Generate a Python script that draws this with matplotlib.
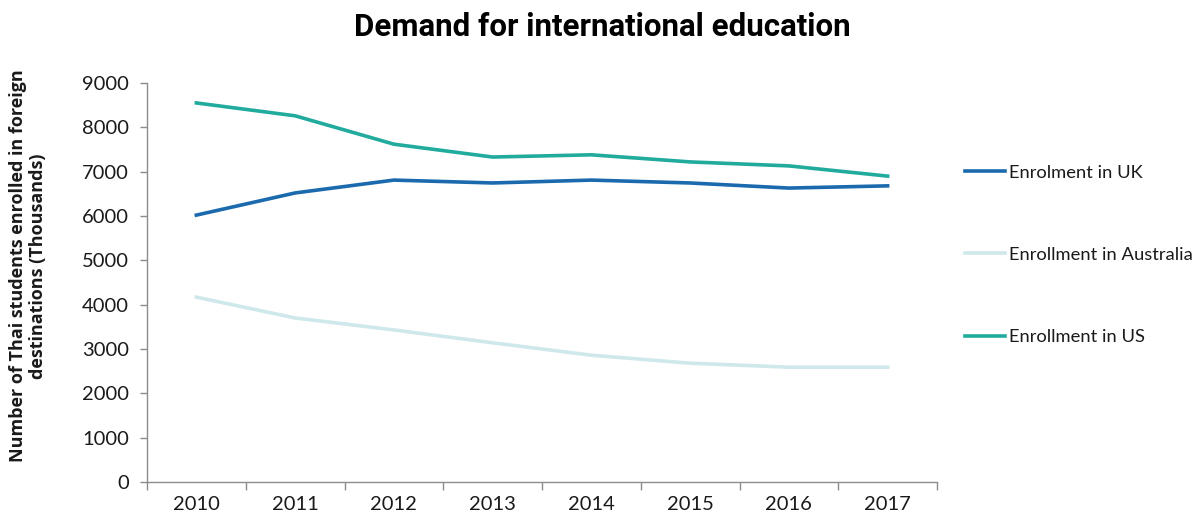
import matplotlib
matplotlib.use("Agg")
import matplotlib.pyplot as plt
from matplotlib.ticker import FixedLocator

years = ["2010", "2011", "2012", "2013", "2014", "2015", "2016", "2017"]
uk = [6020, 6520, 6810, 6745, 6810, 6745, 6630, 6680]
australia = [4170, 3700, 3430, 3140, 2860, 2680, 2590, 2590]
us = [8550, 8260, 7620, 7330, 7380, 7220, 7130, 6900]

series_labels = ["Enrolment in UK", "Enrollment in Australia", "Enrollment in US"]
series_colors = ["#1b6aae", "#cfe8ec", "#21ab9d"]

W, H = 1204, 521
fig = plt.figure(figsize=(W / 100, H / 100), dpi=100)
ax = fig.add_axes([147 / W, (H - 482) / H, (937 - 147) / W, (482 - 83) / H])

x = list(range(len(years)))
lines = []
for vals, lab, col in zip([uk, australia, us], series_labels, series_colors):
    ln, = ax.plot(x, vals, color=col, lw=2.6, label=lab, solid_joinstyle="round")
    lines.append(ln)

ax.set_xlim(-0.5, len(years) - 0.5)
ax.set_ylim(0, 9000)
ax.set_yticks(range(0, 9001, 1000))
ax.set_xticks(x)
ax.set_xticklabels(years)
ax.xaxis.set_minor_locator(FixedLocator([i - 0.5 for i in range(len(years) + 1)]))
ax.tick_params(axis="x", which="major", length=0, pad=10)
ax.tick_params(axis="x", which="minor", length=6, color="#8c8c8c", width=1)
ax.tick_params(axis="y", length=5, color="#8c8c8c", width=1, pad=8)
for lbl in ax.get_xticklabels() + ax.get_yticklabels():
    lbl.set_fontfamily("Lato")
    lbl.set_fontsize(14.5)
    lbl.set_color("#1a1a1a")

for side in ("top", "right"):
    ax.spines[side].set_visible(False)
for side in ("left", "bottom"):
    ax.spines[side].set_color("#8c8c8c")
    ax.spines[side].set_linewidth(1)

fig.text(0.5005, 1 - 27 / H, "Demand for international education", ha="center", va="center",
         fontsize=22.5, fontweight="bold", family="Roboto", color="#000000")

fig.text(28 / W, (H - 266) / H,
         "Number of Thai students enrolled in foreign\ndestinations (Thousands)",
         rotation=90, ha="center", va="center", fontsize=13, fontweight="bold",
         family="Open Sans", color="#1a1a1a", multialignment="center", linespacing=1.15)

leg = fig.legend(handles=lines, loc="upper left", bbox_to_anchor=(948 / W, (H - 148) / H),
                 frameon=False, handlelength=2.2, handletextpad=0.2,
                 labelspacing=3.62, prop={"family": "Lato", "size": 13.2})
for t in leg.get_texts():
    t.set_color("#1a1a1a")

fig.savefig("out.png", dpi=100, facecolor="white")
